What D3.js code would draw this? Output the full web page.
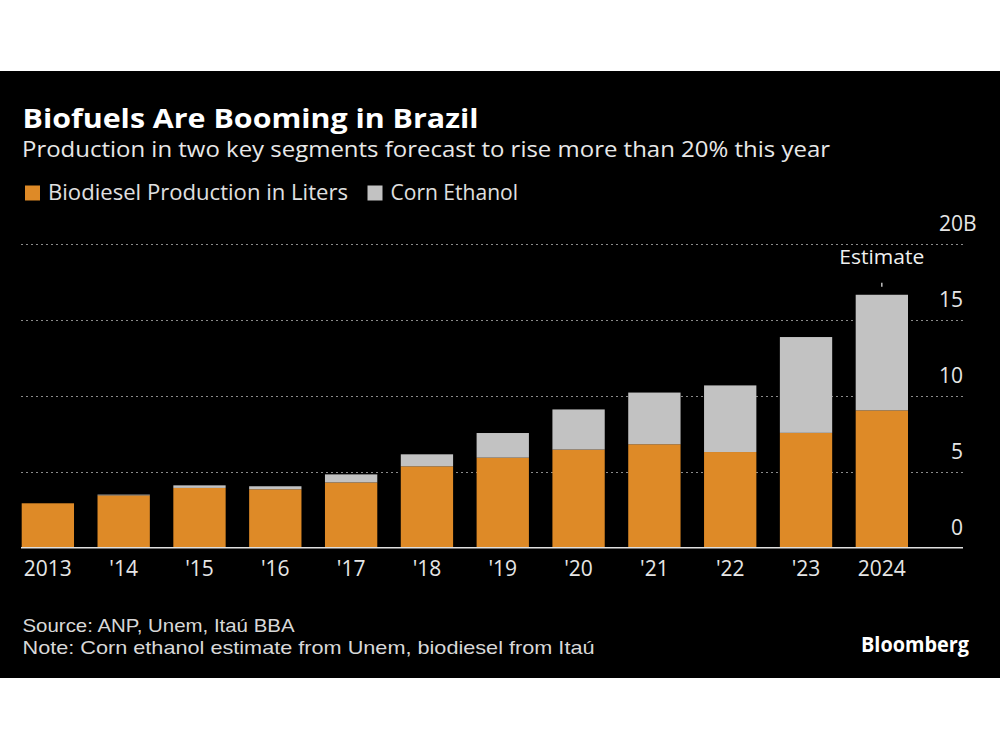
<!DOCTYPE html>
<html>
<head>
<meta charset="utf-8">
<script src="https://cdn.jsdelivr.net/npm/d3@7"></script>
<style>
  html, body { margin: 0; padding: 0; background: #ffffff; }
  svg { display: block; }
  text { font-family: "Open Sans", "Noto Sans", "DejaVu Sans", sans-serif; }
  text.foot { font-family: "Liberation Sans Narrow", "Liberation Sans", Arial, sans-serif; }
</style>
</head>
<body>
<svg id="chart" width="1000" height="750"></svg>
<script>
// ---- Data ----
const categories = ["2013", "'14", "'15", "'16", "'17", "'18", "'19", "'20", "'21", "'22", "'23", "2024"];
const biodiesel  = [2.92, 3.44, 3.93, 3.84, 4.29, 5.35, 5.92, 6.45, 6.80, 6.29, 7.55, 9.03];
const cornEthanol = [0.00, 0.05, 0.17, 0.20, 0.53, 0.79, 1.62, 2.64, 3.40, 4.38, 6.30, 7.60];
const seriesNames = ["Biodiesel Production in Liters", "Corn Ethanol"];
const yTicks = [0, 5, 10, 15, 20];
const yTickLabels = ["0", "5", "10", "15", "20"];

const title = "Biofuels Are Booming in Brazil";
const subtitle = "Production in two key segments forecast to rise more than 20% this year";
const sourceText = "Source: ANP, Unem, Itaú BBA";
const noteText = "Note: Corn ethanol estimate from Unem, biodiesel from Itaú";
const annotationText = "Estimate";
const annotationCategory = "2024";

// ---- Styling ----
const colors = ["#de8a27", "#c2c2c2"];
const svg = d3.select("#chart");

// Black panel
svg.append("rect").attr("x", 0).attr("y", 71).attr("width", 1000).attr("height", 607).attr("fill", "#000");

// Scales
const x = d3.scaleBand().domain(categories).range([21.7, 908]).paddingInner(0.31).paddingOuter(0);
const y = d3.scaleLinear().domain([0, 20]).range([547.7, 243.5]);

// Gridlines
svg.append("g").selectAll("line").data(yTicks.filter(d => d > 0)).join("line")
  .attr("x1", 21).attr("x2", 963)
  .attr("y1", d => Math.round(y(d)) + 0.5).attr("y2", d => Math.round(y(d)) + 0.5)
  .attr("stroke", "#8a8a8a").attr("stroke-width", 1.2).attr("stroke-dasharray", "2,3");

// Stacked data
const rows = categories.map((c, i) => ({ cat: c, bio: biodiesel[i], corn: cornEthanol[i] }));
const stack = d3.stack().keys(["bio", "corn"]);
const stacked = stack(rows);

svg.append("g").selectAll("g").data(stacked).join("g")
  .attr("fill", (d, i) => colors[i])
  .selectAll("rect").data(d => d).join("rect")
  .attr("x", d => x(d.data.cat))
  .attr("width", x.bandwidth())
  .attr("y", d => y(d[1]))
  .attr("height", d => Math.max(0, y(d[0]) - y(d[1])));

// Baseline
svg.append("line").attr("x1", 21).attr("x2", 963).attr("y1", y(0)).attr("y2", y(0))
  .attr("stroke", "#e0e0e0").attr("stroke-width", 1.5);

// Y axis labels (right side)
const yLab = svg.append("g");
yLab.selectAll("text").data(yTicks).join("text")
  .attr("x", 963).attr("y", d => y(d) - 13)
  .attr("text-anchor", "end")
  .attr("fill", "#e6e6e6").attr("font-size", 21)
  .text((d, i) => yTickLabels[i]);
yLab.append("text").attr("x", 963).attr("y", y(20) - 13)
  .attr("fill", "#e6e6e6").attr("font-size", 21).text("B");

// X axis labels
const xAxis = d3.axisBottom(x).tickSize(0).tickPadding(0);
const xg = svg.append("g").attr("transform", `translate(0,${y(0)})`).call(xAxis);
xg.select(".domain").remove();
xg.selectAll("text")
  .attr("fill", "#e6e6e6").attr("font-size", 21)
  .attr("dy", 0).attr("y", 28);

// Estimate annotation
const ax = x(annotationCategory) + x.bandwidth() / 2;
const aIdx = categories.indexOf(annotationCategory);
const aTop = y(biodiesel[aIdx] + cornEthanol[aIdx]);
svg.append("text").attr("x", ax).attr("y", 264).attr("text-anchor", "middle")
  .attr("fill", "#f0f0f0").attr("font-size", 20)
  .attr("textLength", 85).attr("lengthAdjust", "spacingAndGlyphs")
  .text(annotationText);
svg.append("line").attr("x1", ax).attr("x2", ax).attr("y1", aTop - 12).attr("y2", aTop - 8)
  .attr("stroke", "#f0f0f0").attr("stroke-width", 1.2);

// Title & subtitle
svg.append("text").attr("x", 22.5).attr("y", 128).attr("fill", "#ffffff")
  .attr("font-size", 27).attr("font-weight", "bold")
  .attr("textLength", 456).attr("lengthAdjust", "spacingAndGlyphs")
  .text(title);
svg.append("text").attr("x", 22).attr("y", 157).attr("fill", "#e8e8e8")
  .attr("font-size", 22)
  .attr("textLength", 808).attr("lengthAdjust", "spacingAndGlyphs")
  .text(subtitle);

// Legend
const legendItems = [
  { name: seriesNames[0], color: colors[0], sx: 25, tx: 48, tw: 300 },
  { name: seriesNames[1], color: colors[1], sx: 367.5, tx: 390.5, tw: 127.5 }
];
const lg = svg.append("g");
legendItems.forEach(it => {
  lg.append("rect").attr("x", it.sx).attr("y", 185.5).attr("width", 15).attr("height", 15).attr("fill", it.color);
  lg.append("text").attr("x", it.tx).attr("y", 199.5).attr("fill", "#e0e0e0").attr("font-size", 22)
    .attr("textLength", it.tw).attr("lengthAdjust", "spacingAndGlyphs").text(it.name);
});

// Footer (condensed face, like the reference)
svg.append("text").attr("class", "foot").attr("x", 22.5).attr("y", 632).attr("fill", "#d8d8d8").attr("font-size", 18.5)
  .attr("textLength", 272).attr("lengthAdjust", "spacingAndGlyphs").text(sourceText);
svg.append("text").attr("class", "foot").attr("x", 22.5).attr("y", 653.5).attr("fill", "#d8d8d8").attr("font-size", 18.5)
  .attr("textLength", 572).attr("lengthAdjust", "spacingAndGlyphs").text(noteText);
svg.append("text").attr("x", 861).attr("y", 651.5).attr("fill", "#ffffff").attr("font-size", 22)
  .attr("font-weight", "bold")
  .attr("textLength", 108).attr("lengthAdjust", "spacingAndGlyphs").text("Bloomberg");
</script>
</body>
</html>
